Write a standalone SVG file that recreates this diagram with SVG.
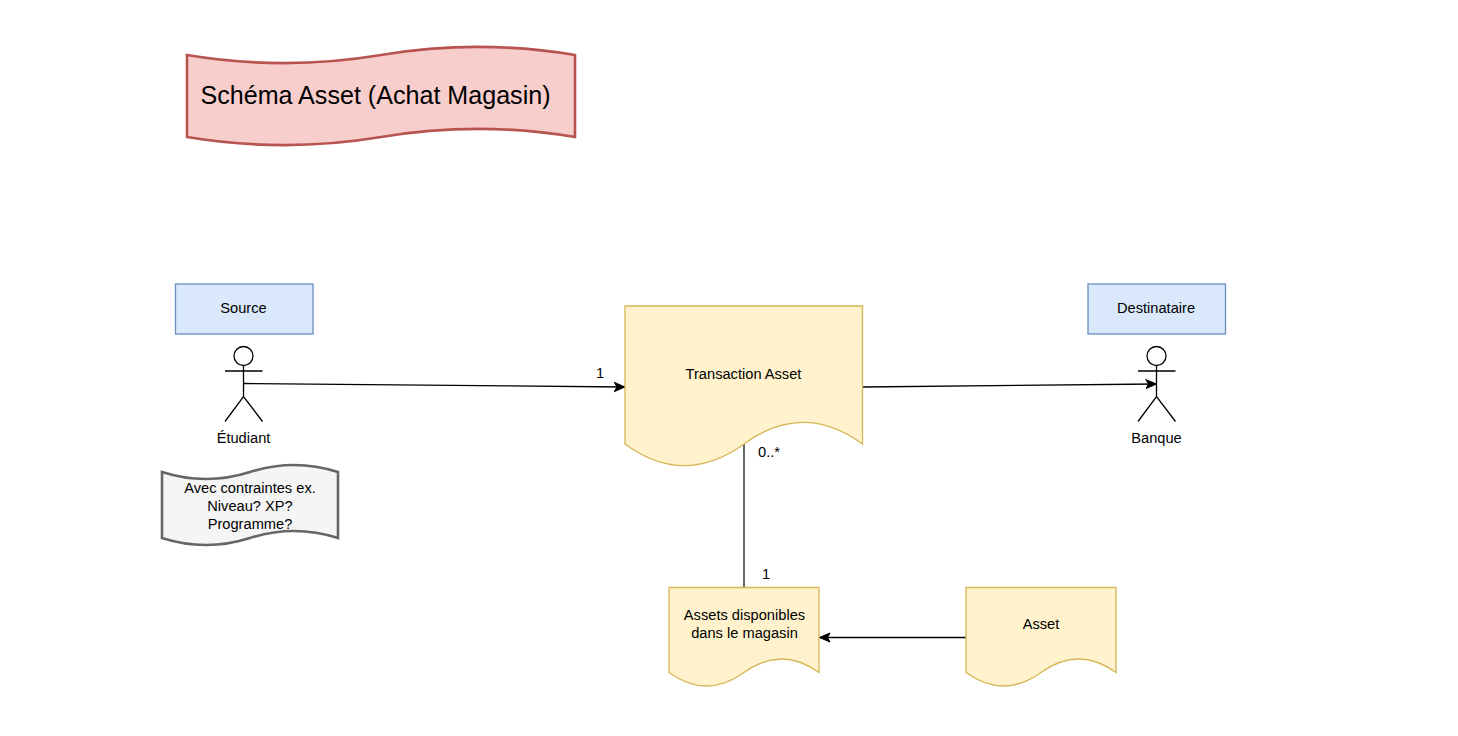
<svg xmlns="http://www.w3.org/2000/svg" width="1458" height="736" viewBox="0 0 1458 736">
<style>
text{font-family:"Liberation Sans",Arial,sans-serif;font-size:14.65px;fill:#000;text-anchor:middle}
.doc{fill:#fff2cc;stroke:#d6b656;stroke-width:1.3}
.blue{fill:#dae8fc;stroke:#6c8ebf;stroke-width:1.3}
.actor{fill:#fff;stroke:#000;stroke-width:1.3}
.actor path{fill:none}
.edge{fill:none;stroke:#000;stroke-width:1.3}
</style>
<defs>
<marker id="arrow" markerUnits="userSpaceOnUse" markerWidth="12" markerHeight="12" refX="11" refY="6" orient="auto">
<path d="M0.500 1.500 L11 6 L0.500 10.500 L3 6 Z" fill="#000" stroke="#000" stroke-width="1"/>
</marker>
</defs>
<rect width="1458" height="736" fill="#fff"/>
<g id="connectors">
<path class="edge" marker-end="url(#arrow)" d="M243.500 383.500 L625 387"/>
<path class="edge" marker-end="url(#arrow)" d="M863 387 L1156.500 384"/>
<path d="M744 444 V587.500" fill="none" stroke="#333" stroke-width="1.500"/>
<path class="edge" marker-end="url(#arrow)" d="M966 637.500 H819.500"/>
</g>
<g id="title">
<path fill="#f8cecc" stroke="#b85450" stroke-width="2.600" d="M187 55 Q284 71.200 381 55 Q478 38.800 575 55 V137 Q478 120.800 381 137 Q284 153.200 187 137 Z"/>
<text x="375.500" y="104" style="font-size:25.1px">Schéma Asset (Achat Magasin)</text>
</g>
<g id="source"><rect class="blue" x="175.500" y="284" width="137.500" height="50"/><text x="243.500" y="313">Source</text></g>
<g id="destinataire"><rect class="blue" x="1088" y="284" width="137.500" height="50"/><text x="1156" y="313">Destinataire</text></g>
<g id="etudiant" class="actor">
<circle cx="243.500" cy="356" r="9.500"/>
<path d="M243.500 365.500 V396.500 M225 371 H262.500 M225 421.500 L243.500 396.500 L262.500 421.500"/>
<text x="243.500" y="442.500" style="stroke:none">Étudiant</text>
</g>
<g id="banque" class="actor">
<circle cx="1156.500" cy="356" r="9.500"/>
<path d="M1156.500 365.500 V396.500 M1138 371 H1175.500 M1138 421.500 L1156.500 396.500 L1175.500 421.500"/>
<text x="1156.500" y="442.500" style="stroke:none">Banque</text>
</g>
<g id="note">
<path fill="#f5f5f5" stroke="#666" stroke-width="2.600" d="M162 472 Q206 486 250 472 Q294 458 338 472 V538 Q294 524 250 538 Q206 552 162 538 Z"/>
<text x="250" y="493">Avec contraintes ex.</text>
<text x="250" y="511">Niveau? XP?</text>
<text x="250" y="529">Programme?</text>
</g>
<g id="transaction">
<path class="doc" d="M625 306 H862.500 V444 Q803 400.800 744 444 Q684 487.200 625 444 Z"/>
<text x="743.500" y="378.500">Transaction Asset</text>
</g>
<g id="assets-disponibles">
<path class="doc" d="M669 587.500 H819 V672.500 Q781.500 645.500 744 672.500 Q706.500 699.500 669 672.500 Z"/>
<text x="744.500" y="620">Assets disponibles</text>
<text x="744.500" y="638">dans le magasin</text>
</g>
<g id="asset">
<path class="doc" d="M966 587.500 H1116 V672.500 Q1078.500 645.500 1041 672.500 Q1003.500 699.500 966 672.500 Z"/>
<text x="1041" y="628.500">Asset</text>
</g>
<g id="labels">
<text x="600" y="378">1</text>
<text x="769" y="457">0..*</text>
<text x="766" y="579">1</text>
</g>
</svg>
